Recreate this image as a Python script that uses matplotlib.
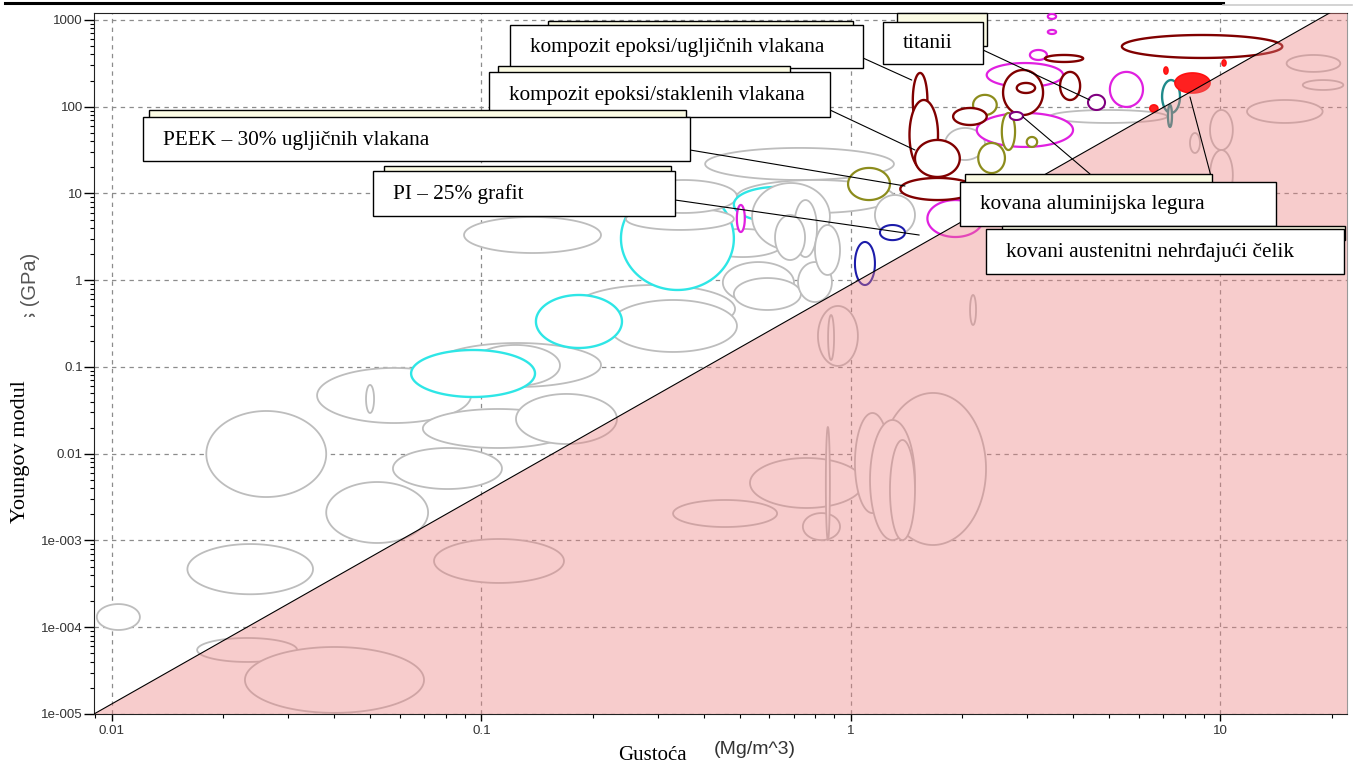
import numpy as np
import matplotlib.pyplot as plt
from matplotlib.patches import Polygon, Rectangle
from matplotlib.lines import Line2D
from matplotlib.transforms import Bbox

# material bubbles: (density lo, density hi, modulus lo, modulus hi) in Mg/m^3 and GPa
grey_low = [
    (0.0091, 0.0119, 9.3e-5, 1.85e-4),
    (0.0160, 0.0350, 2.4e-4, 9.1e-4),
    (0.0180, 0.0380, 3.17e-3, 0.0311),
    (0.0359, 0.0937, 0.0226, 0.0975),
    (0.0487, 0.0512, 0.0295, 0.0621),
    (0.0380, 0.0717, 9.36e-4, 4.72e-3),
    (0.0576, 0.1136, 3.92e-3, 0.01165),
    (0.0694, 0.1769, 0.01165, 0.0328),
    (0.124, 0.2326, 0.01295, 0.0489),
    (0.0744, 0.2106, 0.0588, 0.189),
    (0.0937, 0.1631, 0.0604, 0.1794),
    (0.0897, 0.2106, 2.06, 5.36),
    (0.1769, 0.4856, 0.2466, 0.881),
    (0.2213, 0.4914, 0.149, 0.592),
    (0.393, 0.659, 1.85, 3.9),
    (0.0744, 0.1672, 3.24e-4, 1.04e-3),
    (0.0170, 0.0317, 3.98e-5, 7.52e-5),
    (0.0229, 0.0699, 1.03e-5, 5.92e-5),
    (0.330, 0.631, 1.43e-3, 2.93e-3),
    (0.533, 1.078, 2.37e-3, 8.93e-3),
    (1.198, 2.32, 8.87e-4, 0.0502),
    (1.025, 1.275, 2.07e-3, 0.0295),
    (1.126, 1.49, 1.01e-3, 0.0245),
    (1.275, 1.49, 1.01e-3, 0.0144),
    (0.741, 0.934, 1.01e-3, 2.07e-3),
    (0.855, 0.877, 1.01e-3, 0.0203),
    (0.814, 1.044, 0.1028, 0.505),
    (0.867, 0.90, 0.1205, 0.397),
    (2.10, 2.18, 0.305, 0.676),
    (11.8, 18.9, 65, 119.6),
    (15.1, 21.1, 252, 395),
    (16.7, 21.5, 156, 203),
    (9.37, 10.8, 31.7, 91.7),
    (9.37, 10.8, 8.4, 31.7),
    (9.78, 12.0, 3.15, 9.12),
    (8.27, 8.8, 29.3, 49.8),
]
cyan_back = [(0.2385, 0.482, 0.772, 11.9)]
grey_mid = [
    (0.246, 0.482, 3.8, 6.8),
    (0.252, 0.4914, 5.96, 14.3),
    (0.403, 1.307, 14.3, 33.5),
    (0.4914, 1.307, 5.96, 14.3),
]
cyan = [
    (0.482, 0.824, 4.69, 11.9),
    (0.1404, 0.240, 0.1656, 0.676),
    (0.0645, 0.1396, 0.0451, 0.157),
]
grey_top = [
    (0.540, 0.877, 2.23, 13.2),
    (0.450, 0.701, 0.547, 1.62),
    (0.482, 0.732, 0.454, 1.06),
    (0.719, 0.888, 0.561, 1.62),
    (0.701, 0.809, 1.85, 8.4),
    (0.623, 0.751, 1.71, 5.65),
    (0.799, 0.934, 1.15, 4.33),
    (1.161, 1.49, 3.32, 9.6),
    (1.796, 2.305, 24.3, 56.9),
    (3.457, 7.17, 65.0, 91.7),
]
magenta = [
    (2.33, 3.75, 169, 319),
    (5.02, 6.17, 99.4, 252),
    (2.19, 3.99, 34.4, 84.7),
    (1.61, 2.28, 3.15, 8.4),
    (3.05, 3.39, 346, 451),
    (3.41, 3.59, 1027, 1173),
    (3.41, 3.59, 690, 767),
    (0.491, 0.516, 3.6, 7.37),
]
olive = [
    (2.21, 2.61, 17.2, 38.2),
    (2.56, 2.78, 31.7, 84.7),
    (2.14, 2.48, 80.3, 137),
    (0.982, 1.275, 8.4, 19.7),
    (2.99, 3.19, 34.4, 44.8),
]
dark_red = [
    (5.41, 14.7, 365, 671),
    (1.47, 1.61, 56.9, 245),
    (1.44, 1.72, 18.7, 119.6),
    (1.49, 1.97, 15.5, 41.4),
    (1.89, 2.33, 61.6, 96.7),
    (2.58, 3.31, 80.3, 265),
    (2.81, 3.15, 144, 188),
    (3.68, 4.17, 119.6, 252),
    (3.35, 4.25, 328, 395),
    (1.36, 2.17, 8.4, 15.1),
]
purple = [(4.38, 4.87, 91.7, 137), (2.69, 2.92, 70.3, 87)]
blue = [(1.025, 1.161, 0.881, 2.76), (1.198, 1.40, 2.9, 4.33)]
teal = [(6.95, 7.77, 84.7, 203), (7.21, 7.39, 58.5, 105)]
red = [
    (7.53, 9.37, 144, 245),
    (6.44, 6.77, 87, 105),
    (10.1, 10.35, 295, 346),
    (7.03, 7.21, 238, 287),
]

labels = [
    'kompozit epoksi/ugljičnih vlakana',
    'titanii',
    'kompozit epoksi/staklenih vlakana',
    'PEEK – 30% ugljičnih vlakana',
    'PI – 25% grafit',
    'kovana aluminijska legura',
    'kovani austenitni nehrđajući čelik',
]
label_rho = [1.46, 4.43, 1.49, 1.40, 1.53, 2.92, 8.27]
label_E = [203, 119.6, 31.7, 12.2, 3.32, 76.2, 129.5]

xticks = [0.01, 0.1, 1, 10]
xtick_labels = ['0.01', '0.1', '1', '10']
yticks = [1e-5, 1e-4, 1e-3, 1e-2, 0.1, 1, 10, 100, 1000]
ytick_labels = ['1e-005', '1e-004', '1e-003', '0.01', '0.1', '1', '10', '100', '1000']

W, H = 1355, 765
fig = plt.figure(figsize=(W / 100, H / 100), dpi=100)
ax = fig.add_axes([94 / W, 1 - 714 / H, (1347 - 94) / W, (714 - 12.7) / H])
ax.set_xscale('log')
ax.set_yscale('log')
xmin, xmax, ymin, ymax = 0.00894, 22.0, 1e-5, 1213
ax.set_xlim(xmin, xmax)
ax.set_ylim(ymin, ymax)

t = np.linspace(0, 2 * np.pi, 160)
zc = [2.0]


def bubbles(rows, color, lw, fill='white'):
    for r in rows:
        x0, x1, y0, y1 = np.log10(r)
        cx, cy = (x0 + x1) / 2, (y0 + y1) / 2
        rx, ry = (x1 - x0) / 2, (y1 - y0) / 2
        xs = 10 ** (cx + rx * np.cos(t))
        ys = 10 ** (cy + ry * np.sin(t))
        zc[0] += 0.01
        ax.add_patch(Polygon(np.column_stack([xs, ys]), closed=True,
                             fc=fill, ec=color, lw=lw, zorder=zc[0]))


grey_c = '#bdbdbd'
bubbles(grey_low, grey_c, 1.3)
bubbles(cyan_back, '#2ee6e6', 1.7)
bubbles(grey_mid, grey_c, 1.3)
bubbles(cyan, '#2ee6e6', 1.7)
bubbles(grey_top, grey_c, 1.3)
bubbles(magenta, '#e020e0', 1.6)
bubbles(olive, '#8c8c1c', 1.6)
bubbles(dark_red, '#800000', 1.7)
bubbles(purple, '#800080', 1.5)
bubbles(blue, '#1c1caa', 1.5)
bubbles(teal, '#1f8a8a', 1.7)
bubbles(red, '#ff1010', 1.2, fill='#ff2020')

# pink region below the E/rho guide line
x_top = 19.8
ax.add_patch(Polygon([(xmin, ymin), (x_top, ymax), (xmax, ymax), (xmax, ymin)],
                     closed=True, fc='#eb8080', ec='none', alpha=0.4, zorder=10))
ax.plot([xmin, x_top], [ymin, ymax], color='black', lw=0.8, zorder=11)

ax.set_axisbelow(True)
ax.grid(True, which='major', color='#8c8c8c', ls=(0, (3.5, 3.5)), lw=0.9)
ax.set_xticks(xticks, xtick_labels)
ax.set_yticks(yticks, ytick_labels)
ax.xaxis.set_minor_formatter(plt.NullFormatter())
ax.yaxis.set_minor_formatter(plt.NullFormatter())
for lab in ax.get_xticklabels() + ax.get_yticklabels():
    lab.set_family('Liberation Sans')
    lab.set_color('#333333')
ax.tick_params(axis='y', which='major', length=7, width=1, labelsize=9.6, pad=1)
ax.tick_params(axis='y', which='minor', length=3, width=0.8)
ax.tick_params(axis='x', which='major', length=5, width=1, labelsize=9.6, pad=3)
ax.tick_params(axis='x', which='minor', length=3, width=0.8)
for s in ['left', 'bottom', 'top']:
    ax.spines[s].set_color('#222222')
ax.spines['right'].set_color('#999999')

# annotation boxes (pixel layout, top-left origin)
boxes = [(510, 25, 863, 68), (883, 22, 983, 64), (489, 72, 830, 117),
         (143, 117, 690, 161), (373, 171, 675, 216), (960, 182, 1276, 226),
         (986, 229, 1344, 274)]
shadows = [(548, 21, 853, 40), (897, 13, 987, 46), (498, 66, 790, 80),
           (149, 110, 686, 125), (384, 166, 671, 180), (965, 174, 1212, 190),
           (1002, 226, 1345, 240)]
starts = [(863, 58), (983, 50), (830, 110), (690, 150), (675, 200),
          (1090, 174), (1212, 180)]


def rect(b, fc, z):
    x0, y0, x1, y1 = b
    fig.add_artist(Rectangle((x0 / W, 1 - y1 / H), (x1 - x0) / W, (y1 - y0) / H,
                             transform=fig.transFigure, fc=fc, ec='black', lw=1,
                             zorder=z))


for i, lab in enumerate(labels):
    ax.annotate('', xy=(label_rho[i], label_E[i]),
                xytext=(starts[i][0] / W, 1 - starts[i][1] / H),
                textcoords='figure fraction', annotation_clip=False,
                arrowprops=dict(arrowstyle='-', color='black', lw=0.8,
                                shrinkA=0, shrinkB=0), zorder=12)
    z = 20 + i
    rect(shadows[i], '#fbfbe4', z)
    rect(boxes[i], 'white', z + 0.2)
    x0, y0, x1, y1 = boxes[i]
    fig.text((x0 + 20) / W, 1 - ((y0 + y1) / 2 + 1) / H, lab, fontsize=15.3,
             family='Liberation Serif', va='center', ha='left', zorder=z + 0.4)

fig.text(21 / W, 1 - 452 / H, 'Youngov modul', rotation=90, fontsize=16,
         family='Liberation Serif', va='center', ha='center')
gpa = fig.text(31 / W, 1 - 287 / H, 's (GPa)', rotation=90, fontsize=14.5,
               family='Liberation Sans', color='#555555', va='center', ha='center')
gpa.set_clip_box(Bbox.from_extents(0, H - 317, 80, H))
gpa.set_clip_on(True)
fig.text(652 / W, 1 - 755 / H, 'Gustoća', fontsize=15,
         family='Liberation Serif', va='center', ha='center')
fig.text(755 / W, 1 - 750 / H, '(Mg/m^3)', fontsize=14,
         family='Liberation Sans', color='#333333', va='center', ha='center')

fig.add_artist(Line2D([5 / W, 1223 / W], [1 - 3 / H, 1 - 3 / H], color='black', lw=2.2))
fig.add_artist(Line2D([1223 / W, 1352 / W], [1 - 5 / H, 1 - 5 / H], color='#cccccc', lw=1.2))

fig.savefig('out.png', dpi=100)
